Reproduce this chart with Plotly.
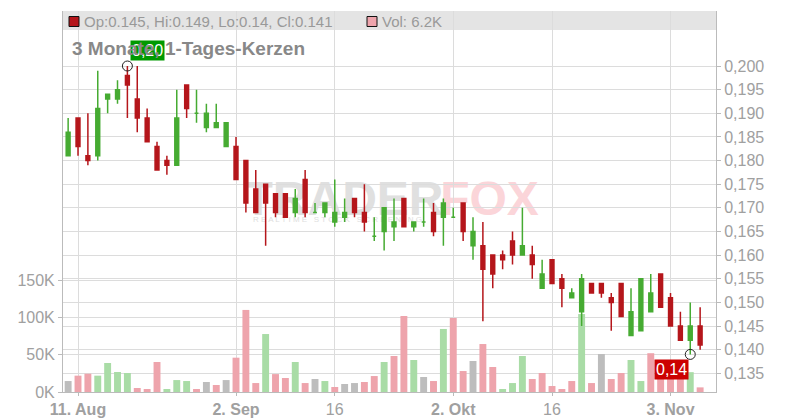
import plotly.graph_objects as go
import pandas as pd

# ---------------- data ----------------
dates = [d.strftime("%Y-%m-%d") for d in pd.bdate_range("2025-08-08", "2025-11-06")]

opens = [0.181, 0.189, 0.181, 0.181, 0.193, 0.193, 0.198, 0.193, 0.189, 0.183,
         0.180, 0.179, 0.196, 0.190, 0.187, 0.187, 0.183, 0.183, 0.180, 0.174,
         0.175, 0.173, 0.173, 0.169, 0.176, 0.169, 0.169, 0.167, 0.168, 0.172,
         0.169, 0.164, 0.165, 0.166, 0.172, 0.166, 0.167, 0.169, 0.168, 0.168,
         0.171, 0.162, 0.162, 0.160, 0.160, 0.163, 0.160, 0.160, 0.153, 0.159,
         0.155, 0.151, 0.148, 0.154, 0.154, 0.151, 0.154, 0.143, 0.144, 0.148,
         0.156, 0.151, 0.145, 0.142, 0.145]
highs = [0.189, 0.189, 0.190, 0.199, 0.194, 0.197, 0.200, 0.200, 0.191, 0.184,
         0.181, 0.195, 0.196, 0.195, 0.192, 0.192, 0.188, 0.185, 0.180, 0.178,
         0.175, 0.173, 0.173, 0.174, 0.178, 0.171, 0.171, 0.176, 0.172, 0.172,
         0.175, 0.168, 0.170, 0.172, 0.172, 0.167, 0.172, 0.171, 0.172, 0.170,
         0.171, 0.168, 0.167, 0.160, 0.161, 0.165, 0.170, 0.162, 0.159, 0.159,
         0.156, 0.153, 0.156, 0.154, 0.154, 0.152, 0.154, 0.153, 0.155, 0.156,
         0.156, 0.152, 0.148, 0.150, 0.149]
lows = [0.181, 0.181, 0.179, 0.180, 0.190, 0.192, 0.189, 0.186, 0.184, 0.178,
        0.177, 0.179, 0.189, 0.188, 0.186, 0.187, 0.183, 0.176, 0.169, 0.169,
        0.162, 0.168, 0.168, 0.168, 0.168, 0.169, 0.168, 0.166, 0.167, 0.168,
        0.165, 0.163, 0.161, 0.163, 0.166, 0.165, 0.166, 0.164, 0.162, 0.168,
        0.163, 0.159, 0.146, 0.153, 0.157, 0.158, 0.160, 0.155, 0.153, 0.154,
        0.149, 0.151, 0.145, 0.152, 0.151, 0.144, 0.147, 0.143, 0.144, 0.148,
        0.149, 0.145, 0.142, 0.139, 0.140]
closes = [0.186, 0.183, 0.180, 0.191, 0.194, 0.195, 0.196, 0.189, 0.184, 0.178,
          0.179, 0.189, 0.191, 0.190, 0.190, 0.188, 0.188, 0.176, 0.171, 0.169,
          0.171, 0.169, 0.168, 0.172, 0.169, 0.169, 0.171, 0.169, 0.169, 0.169,
          0.167, 0.164, 0.170, 0.167, 0.166, 0.167, 0.167, 0.165, 0.171, 0.168,
          0.165, 0.165, 0.157, 0.156, 0.159, 0.160, 0.162, 0.158, 0.156, 0.154,
          0.153, 0.152, 0.155, 0.152, 0.152, 0.150, 0.147, 0.148, 0.155, 0.152,
          0.149, 0.145, 0.142, 0.145, 0.141]
volumes = [14700, 21900, 24500, 21900, 38900, 26800, 25500, 5400, 4000, 40200,
           4000, 16000, 14700, 4000, 13400, 9400, 16000, 46000, 110000, 12000,
           77700, 24000, 18800, 40200, 12000, 17400, 14700, 6700, 10700, 12000,
           13400, 21400, 40200, 48300, 101900, 42900, 20100, 14700, 84500, 99200,
           28100, 41600, 64300, 33500, 4000, 12000, 48300, 17400, 25500, 8000,
           4000, 14700, 104500, 12000, 50900, 17400, 25500, 42900, 14700, 52000,
           35000, 30000, 38000, 26600, 6200]

tick_dates = [dates[1], dates[17], dates[27], dates[39], dates[49], dates[61]]
tick_labels = ["<b>11. Aug</b>", "<b>2. Sep</b>", "16", "<b>2. Okt</b>", "16", "<b>3. Nov</b>"]
price_ticks = [0.135, 0.140, 0.145, 0.150, 0.155, 0.160, 0.165, 0.170,
               0.175, 0.180, 0.185, 0.190, 0.195, 0.200]
vol_ticks = [0, 50000, 100000, 150000]
vol_tick_labels = ["0K", "50K", "100K", "150K"]

high_idx, high_val = 6, 0.200
low_idx, low_val = 63, 0.139

# ---------------- style ----------------
RED = "#b5161b"
GREEN = "#46ab32"
VOL_RED = "#eea4ac"
VOL_GREEN = "#a9dca6"
VOL_GRAY = "#bdbdbd"
GRID = "#dcdcdc"
AXIS = "#bbbbbb"
TXT = "#a0a0a0"
FONT = "Liberation Sans, Arial, sans-serif"

W, H = 800, 420
ML, MR, MT, MB = 63, 84, 11, 28
PW, PH = W - ML - MR, H - MT - MB


def px(x):
    return (x - ML) / PW


def py(y):
    return (H - MB - y) / PH


vol_colors = []
for i, c in enumerate(closes):
    if i == 0 or round(c, 4) == round(closes[i - 1], 4):
        vol_colors.append(VOL_GRAY)
    elif c > closes[i - 1]:
        vol_colors.append(VOL_GREEN)
    else:
        vol_colors.append(VOL_RED)

up = [i for i in range(len(dates)) if closes[i] >= opens[i]]
dn = [i for i in range(len(dates)) if closes[i] < opens[i]]

fig = go.Figure()
fig.add_trace(go.Bar(x=dates, y=volumes, marker=dict(color=vol_colors, line=dict(width=0)),
                     width=0.7, yaxis="y", hoverinfo="skip"))


def candle(idx, color):
    return go.Candlestick(
        x=[dates[i] for i in idx], open=[opens[i] for i in idx], high=[highs[i] for i in idx],
        low=[lows[i] for i in idx], close=[closes[i] for i in idx], yaxis="y2",
        increasing=dict(line=dict(color=color, width=1.5), fillcolor=color),
        decreasing=dict(line=dict(color=color, width=1.5), fillcolor=color),
        whiskerwidth=0, hoverinfo="skip")


fig.add_trace(candle(up, GREEN))
fig.add_trace(candle(dn, RED))
fig.add_trace(go.Scatter(x=[dates[high_idx], dates[low_idx]], y=[high_val, low_val], yaxis="y2",
                         mode="markers",
                         marker=dict(symbol="circle-open", size=10, color="#222",
                                     line=dict(width=1, color="#222")),
                         hoverinfo="skip"))

shapes = [
    dict(type="rect", xref="paper", yref="paper", x0=0, x1=1, y0=py(30), y1=1,
         fillcolor="#e4e4e4", line=dict(width=0), layer="below"),
    dict(type="rect", xref="paper", yref="paper", x0=px(250), x1=px(437), y0=py(214), y1=py(172),
         fillcolor="rgba(0,0,0,0)", line=dict(width=0), layer="below",
         label=dict(text="<b>TRADER</b>", font=dict(size=48, color="#e0e0e0", family=FONT),
                    textposition="middle center")),
    dict(type="rect", xref="paper", yref="paper", x0=px(441), x1=px(538), y0=py(214), y1=py(172),
         fillcolor="rgba(0,0,0,0)", line=dict(width=0), layer="below",
         label=dict(text="<b>FOX</b>", font=dict(size=48, color="#fbd5d9", family=FONT),
                    textposition="middle center")),
    dict(type="rect", xref="paper", yref="paper", x0=px(250), x1=px(425), y0=py(223), y1=py(213),
         fillcolor="rgba(0,0,0,0)", line=dict(width=0), layer="below",
         label=dict(text="R E A L T I M E   S T O C K   S C R E E N I N G",
                    font=dict(size=8, color="#dedede", family=FONT),
                    textposition="middle center")),
    dict(type="rect", xref="paper", yref="paper", x0=px(69), x1=px(79), y0=py(26.5), y1=py(16.5),
         fillcolor=RED, line=dict(width=1, color="#111")),
    dict(type="rect", xref="paper", yref="paper", x0=px(367), x1=px(377), y0=py(26.5), y1=py(16.5),
         fillcolor=VOL_RED, line=dict(width=1, color="#111")),
]

annotations = [
    dict(x=dates[low_idx], y=low_val, xref="x", yref="y2", text="0,14", showarrow=False,
         xanchor="right", yanchor="top", xshift=-1, yshift=-5, bgcolor="#cc0000",
         font=dict(size=16, color="white", family=FONT), borderpad=1),
    dict(x=dates[high_idx], y=high_val, xref="x", yref="y2", text="0,20", showarrow=False,
         xanchor="left", yanchor="bottom", xshift=3, yshift=5, bgcolor="#009900",
         font=dict(size=16, color="white", family=FONT), borderpad=1),
    dict(x=px(70), y=py(48), xref="paper", yref="paper", text="<b>3 Monate, 1-Tages-Kerzen</b>",
         showarrow=False, xanchor="left", yanchor="middle",
         font=dict(size=19, color="#888888", family=FONT)),
    dict(x=px(81.5), y=py(21), xref="paper", yref="paper",
         text=f"Op:{opens[-1]}, Hi:{highs[-1]}, Lo:{lows[-1]:g}, Cl:{closes[-1]}",
         showarrow=False, xanchor="left", yanchor="middle",
         font=dict(size=15, color="#999999", family=FONT)),
    dict(x=px(380), y=py(21), xref="paper", yref="paper", text=f"Vol: {volumes[-1]/1000:.1f}K",
         showarrow=False, xanchor="left", yanchor="middle",
         font=dict(size=15, color="#999999", family=FONT)),
]

x_lo = -0.52
x_hi = x_lo + PW / ((236 - 78) / 16)

fig.update_layout(
    width=W, height=H, margin=dict(l=ML, r=MR, t=MT, b=MB),
    paper_bgcolor="white", plot_bgcolor="white", showlegend=False,
    separators=",.", boxgap=0.44, hovermode=False,
    font=dict(family=FONT, size=16, color=TXT),
    xaxis=dict(type="category", categoryorder="array", categoryarray=dates,
               range=[x_lo, x_hi], tickmode="array", tickvals=tick_dates, ticktext=tick_labels,
               showgrid=True, gridcolor=GRID, gridwidth=1, showline=True, linecolor=AXIS,
               ticks="outside", ticklen=3, tickcolor=AXIS, rangeslider=dict(visible=False),
               tickfont=dict(size=16, color=TXT, family=FONT), fixedrange=True, automargin=False),
    yaxis=dict(side="left", range=[0, PH / 0.746 * 1000], tickmode="array", tickvals=vol_ticks,
               ticktext=vol_tick_labels, showgrid=True, gridcolor=GRID, zeroline=False,
               showline=True, linecolor=AXIS, ticks="outside", ticklen=4, tickcolor=AXIS,
               tickfont=dict(size=16, color=TXT, family=FONT), fixedrange=True, automargin=False),
    yaxis2=dict(side="right", overlaying="y",
                range=[0.200 - (H - MB - 66) / 4728, 0.200 + (66 - MT) / 4728],
                tickmode="array", tickvals=price_ticks, tickformat=".3f",
                showgrid=True, gridcolor=GRID, zeroline=False, showline=True, linecolor=AXIS,
                ticks="outside", ticklen=4, tickcolor=AXIS,
                tickfont=dict(size=16, color=TXT, family=FONT), fixedrange=True, automargin=False),
    shapes=shapes, annotations=annotations,
)

fig.write_html("out.html", config={"displayModeBar": False},
               post_script="document.body.style.margin='0';document.body.style.overflow='hidden';")
